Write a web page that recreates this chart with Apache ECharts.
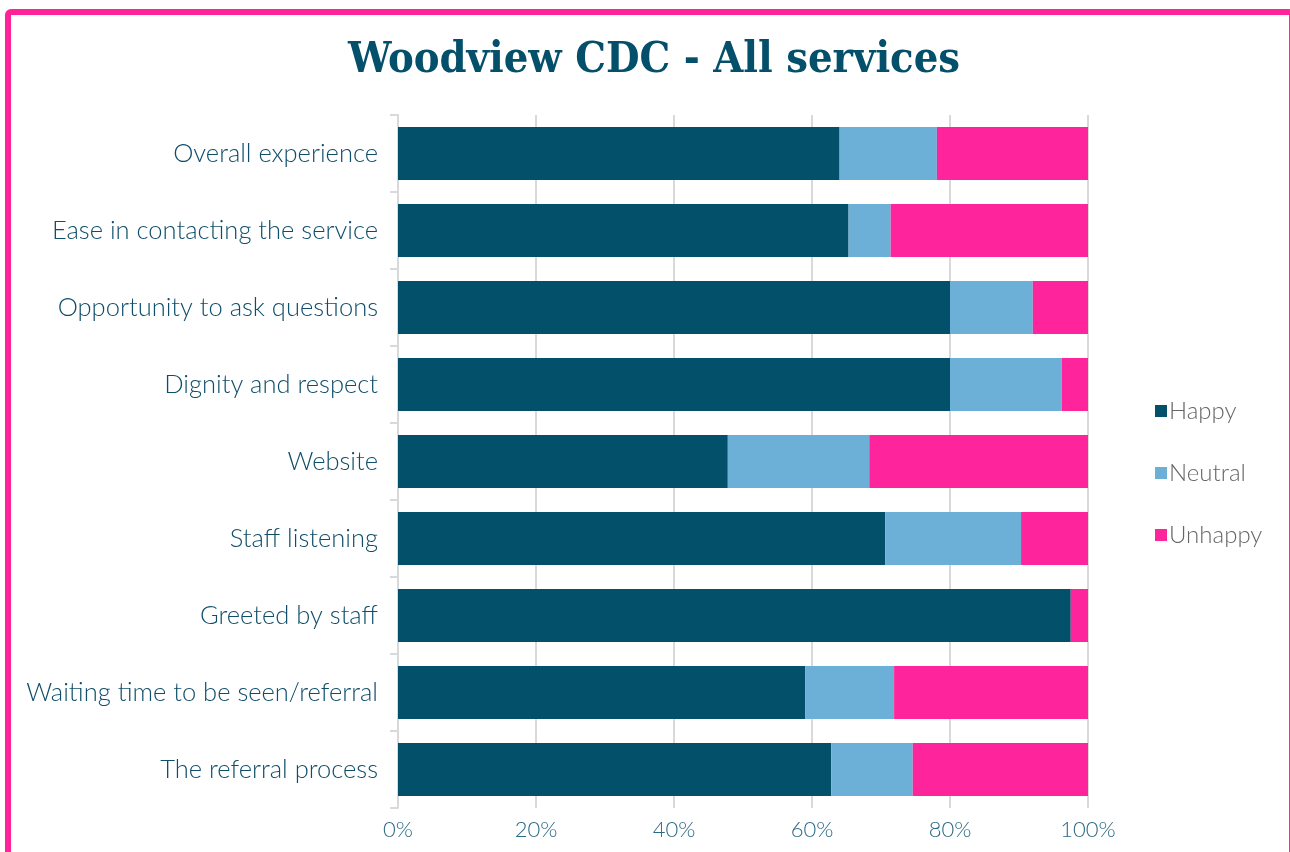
<!DOCTYPE html>
<html><head><meta charset="utf-8">
<script src="https://cdn.jsdelivr.net/npm/echarts@6/dist/echarts.min.js"></script>
<style>
html,body{margin:0;padding:0;background:#fff;}
#frame{position:absolute;left:5px;top:9px;width:1290px;height:860px;border:6px solid #ff2299;border-radius:6px;box-sizing:border-box;}
#c{position:absolute;left:0;top:0;width:1290px;height:852px;}
</style></head>
<body>
<div id="frame"></div>
<div id="c"></div>
<script>
const categories = ["Overall experience","Ease in contacting the service","Opportunity to ask questions","Dignity and respect","Website","Staff listening","Greeted by staff","Waiting time to be seen/referral","The referral process"];
const happy   = [64.0, 65.3, 80.0, 80.0, 47.8, 70.6, 97.5, 59.0, 62.8];
const neutral = [14.1, 6.1, 12.0, 16.2, 20.5, 19.7, 0, 12.9, 11.8];
const unhappy = [21.9, 28.6, 8.0, 3.8, 31.7, 9.7, 2.5, 28.1, 25.4];
const xTicks = [0, 20, 40, 60, 80, 100];

const chart = echarts.init(document.getElementById('c'));
const lightFont = 'Lato';
chart.setOption({
  animation:false,
  title:{text:'Woodview CDC - All services',left:649,top:34,textAlign:'center',
    textStyle:{fontFamily:'DejaVu Serif Condensed',fontWeight:'bold',fontSize:43,color:'#04506b'}},
  legend:{orient:'vertical',left:1150,top:394,itemGap:38,itemWidth:12,itemHeight:12,icon:'rect',
    textStyle:{fontFamily:lightFont,fontWeight:300,fontSize:24,color:'#666',padding:[0,0,0,-3]},
    data:['Happy','Neutral','Unhappy']},
  grid:{left:398,right:202,top:115,bottom:44,containLabel:false},
  xAxis:{type:'value',min:0,max:100,interval:20,
    axisLabel:{formatter:v=>v+'%',fontFamily:lightFont,fontWeight:300,fontSize:22,color:'#2a6a86',margin:11},
    splitLine:{show:true,lineStyle:{color:'#d9d9d9',width:2}},
    axisLine:{show:false},axisTick:{show:false}},
  yAxis:{type:'category',data:categories,inverse:true,
    axisLabel:{fontFamily:lightFont,fontWeight:300,fontSize:25.5,color:'#0f4e6a',margin:20},
    axisLine:{show:true,lineStyle:{color:'#d9d9d9',width:2}},
    axisTick:{show:true,length:8,lineStyle:{color:'#d9d9d9',width:2}}},
  series:[
    {name:'Happy',type:'bar',stack:'s',data:happy,barWidth:'69%',itemStyle:{color:'#03506b'}},
    {name:'Neutral',type:'bar',stack:'s',data:neutral,itemStyle:{color:'#6cb0d8'}},
    {name:'Unhappy',type:'bar',stack:'s',data:unhappy,itemStyle:{color:'#fe249c'}}
  ]
});
</script>
</body></html>
